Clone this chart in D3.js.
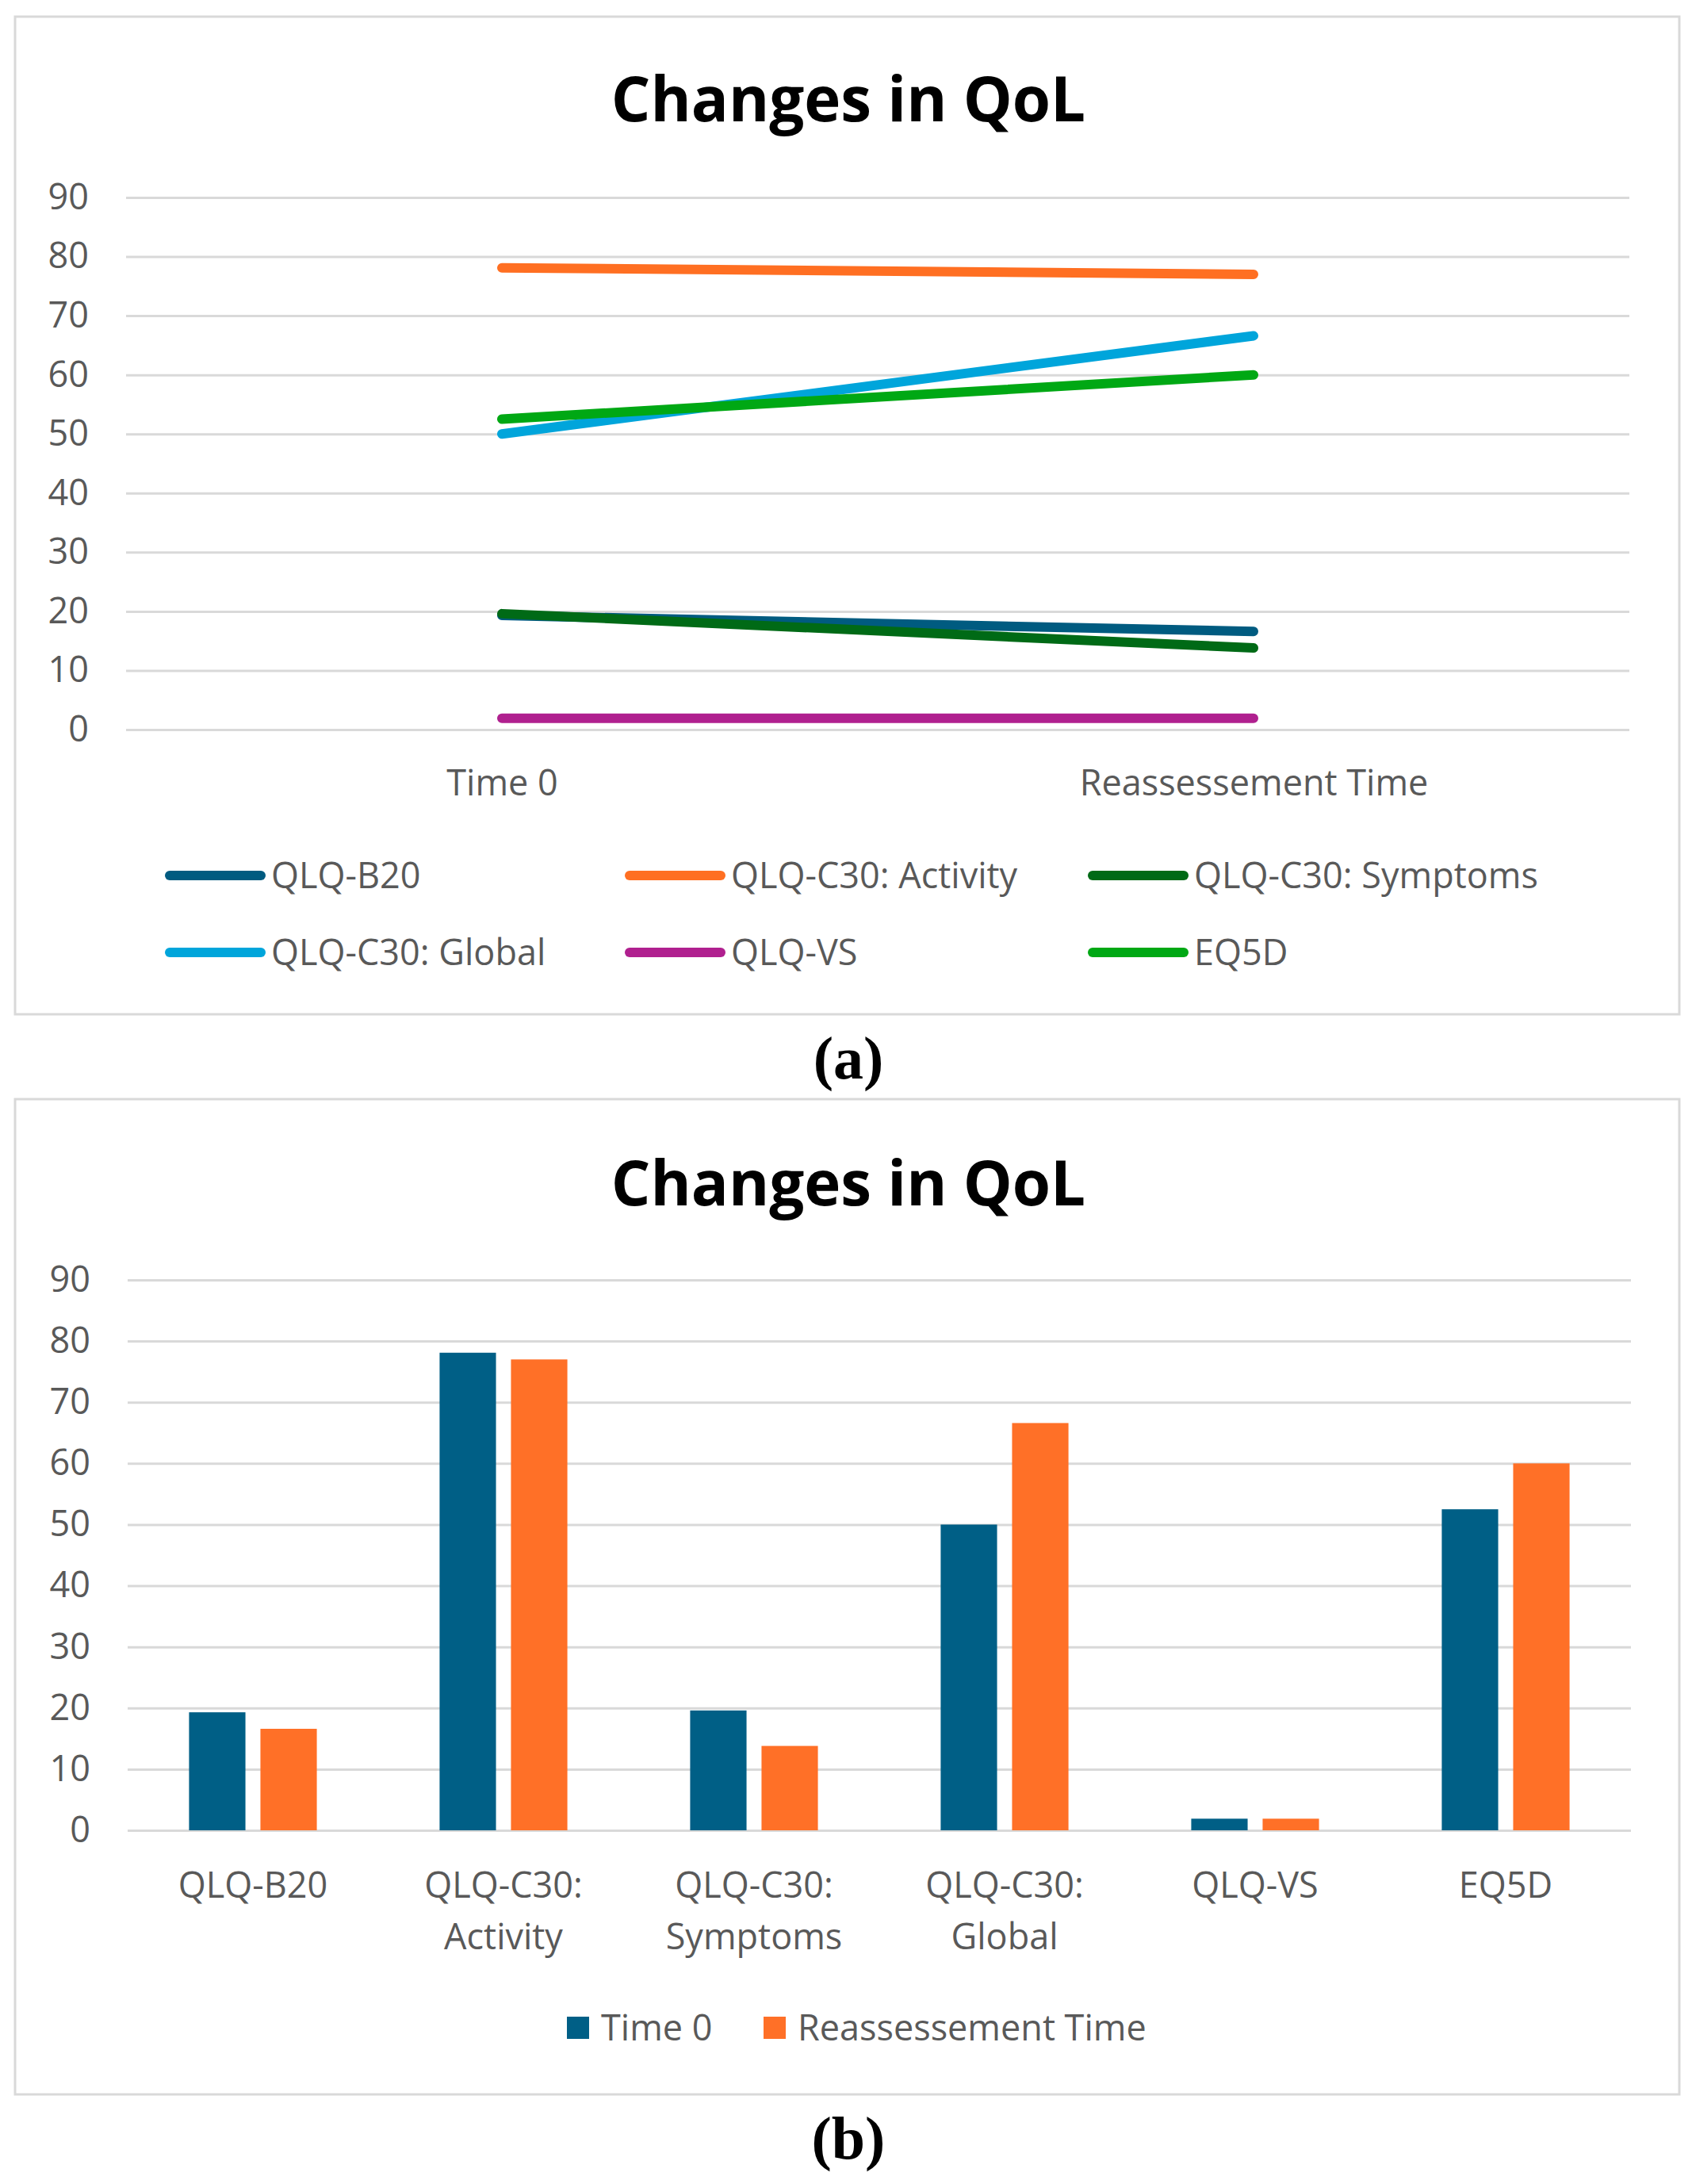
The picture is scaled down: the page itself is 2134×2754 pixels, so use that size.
<!DOCTYPE html>
<head>
  <meta charset="utf-8">
  <script src="https://d3js.org/d3.v7.min.js"></script>
  <style>
    body { margin: 0; background: #fff; }
    text { font-family: "Open Sans", "Noto Sans", sans-serif; fill: #595959; }
    .title { font-weight: bold; fill: #000; }
    .caption { font-family: "Liberation Serif", "DejaVu Serif", serif; font-weight: bold; fill: #000; }
    .grid line { stroke: #d9d9d9; stroke-width: 3; }
    .grid path, .axis path { display: none; }
    .frame { fill: none; stroke: #d9d9d9; stroke-width: 3; }
  </style>
</head>
<body>
  <script>
    // data
    const timepoints = ["Time 0", "Reassessement Time"];
    const measures = ["QLQ-B20", "QLQ-C30: Activity", "QLQ-C30: Symptoms", "QLQ-C30: Global", "QLQ-VS", "EQ5D"];
    const time0Values = [19.3, 78.1, 19.6, 50.0, 1.9, 52.5];
    const reassessValues = [16.6, 77.0, 13.8, 66.6, 1.9, 60.0];
    const yTicks = [0, 10, 20, 30, 40, 50, 60, 70, 80, 90];

    const lineColors = ["#005b80", "#ff6f22", "#006a16", "#00a5db", "#b0208f", "#00a814"];
    const barColors = ["#005f86", "#ff7027"];

    const W = 2134, H = 2754;
    const tickFont = 45;

    const svg = d3.select("body").append("svg")
        .attr("width", W)
        .attr("height", H);
    svg.append("rect").attr("width", W).attr("height", H).attr("fill", "#fff");

    function frame(y0, y1) {
        svg.append("rect").attr("class", "frame")
            .attr("x", 19).attr("y", y0)
            .attr("width", 2118 - 19).attr("height", y1 - y0);
    }

    function title(yBase) {
        svg.append("text").attr("class", "title")
            .attr("x", 1070).attr("y", yBase)
            .attr("text-anchor", "middle")
            .style("font-size", "78px")
            .text("Changes in QoL");
    }

    function yAxisAndGrid(g, y, left, right) {
        g.append("g").attr("class", "grid")
            .attr("transform", "translate(" + left + ",0)")
            .call(d3.axisLeft(y).tickValues(yTicks).tickSize(-(right - left)).tickFormat(""));
        g.append("g").attr("class", "axis")
            .attr("transform", "translate(" + (left - 47) + ",0)")
            .call(d3.axisLeft(y).tickValues(yTicks).tickSize(0).tickPadding(0))
            .call(a => a.selectAll("text").style("font-size", tickFont + "px").attr("fill", "#595959"));
    }

    // ---------- (a) line chart ----------
    frame(21, 1279);
    title(153);
    const gA = svg.append("g");
    const yA = d3.scaleLinear().domain([0, 90]).range([920, 249]);
    const xA = d3.scalePoint().domain(timepoints).range([159, 2055]).padding(0.5);
    yAxisAndGrid(gA, yA, 159, 2055);

    gA.append("g").attr("class", "axis")
        .attr("transform", "translate(0,920)")
        .call(d3.axisBottom(xA).tickSize(0).tickPadding(0))
        .call(a => a.selectAll("text")
            .attr("y", 83).attr("dy", 0)
            .style("font-size", tickFont + "px").attr("fill", "#595959"));

    const series = measures.map((m, i) => ({
        name: m,
        color: lineColors[i],
        values: [time0Values[i], reassessValues[i]]
    }));

    const line = d3.line()
        .x((d, i) => xA(timepoints[i]))
        .y(d => yA(d));

    gA.selectAll(".series")
        .data(series)
        .enter().append("path")
        .attr("class", "series")
        .attr("d", d => line(d.values))
        .attr("fill", "none")
        .attr("stroke", d => d.color)
        .attr("stroke-width", 12)
        .attr("stroke-linecap", "round");

    const legendCols = [208, 788, 1372];
    const legendRows = [1104, 1201];
    const legA = gA.selectAll(".legA")
        .data(series)
        .enter().append("g")
        .attr("class", "legA")
        .attr("transform", (d, i) => "translate(" + legendCols[i % 3] + "," + legendRows[Math.floor(i / 3)] + ")");
    legA.append("line")
        .attr("x1", 6).attr("x2", 121)
        .attr("stroke", d => d.color)
        .attr("stroke-width", 12)
        .attr("stroke-linecap", "round");
    legA.append("text")
        .attr("x", 134).attr("dy", "0.36em")
        .style("font-size", tickFont + "px")
        .text(d => d.name);

    svg.append("text").attr("class", "caption")
        .attr("x", 1070).attr("y", 1360)
        .attr("text-anchor", "middle")
        .style("font-size", "76px")
        .text("(a)");

    // ---------- (b) bar chart ----------
    frame(1386, 2641);
    title(1520);
    const gB = svg.append("g");
    const yB = d3.scaleLinear().domain([0, 90]).range([2308, 1614]);
    const x0 = d3.scaleBand().domain(measures).range([161, 2057]);
    const x1 = d3.scaleBand().domain(timepoints).range([0, x0.bandwidth()])
        .paddingInner(0.21).paddingOuter(0.86);
    yAxisAndGrid(gB, yB, 161, 2057);

    const barData = measures.map((m, i) => ({
        name: m,
        values: [
            { key: timepoints[0], value: time0Values[i] },
            { key: timepoints[1], value: reassessValues[i] }
        ]
    }));

    gB.selectAll(".group")
        .data(barData)
        .enter().append("g")
        .attr("class", "group")
        .attr("transform", d => "translate(" + x0(d.name) + ",0)")
        .selectAll("rect")
        .data(d => d.values)
        .enter().append("rect")
        .attr("x", d => x1(d.key))
        .attr("width", x1.bandwidth())
        .attr("y", d => yB(d.value))
        .attr("height", d => yB(0) - yB(d.value))
        .attr("fill", (d, i) => barColors[i]);

    const xAxB = gB.append("g").attr("class", "axis")
        .attr("transform", "translate(0,2308)")
        .call(d3.axisBottom(x0).tickSize(0).tickPadding(0).tickFormat(""));
    xAxB.selectAll(".tick").append("text")
        .attr("text-anchor", "middle")
        .style("font-size", tickFont + "px")
        .attr("fill", "#595959")
        .each(function(d) {
            const parts = d.indexOf(": ") >= 0 ? [d.split(": ")[0] + ":", d.split(": ")[1]] : [d];
            d3.select(this).selectAll("tspan")
                .data(parts)
                .enter().append("tspan")
                .attr("x", 0)
                .attr("y", (p, j) => 85 + j * 65)
                .text(p => p);
        });

    const legB = gB.selectAll(".legB")
        .data(timepoints)
        .enter().append("g")
        .attr("class", "legB")
        .attr("transform", (d, i) => "translate(" + [715, 963][i] + ",2557)");
    legB.append("rect")
        .attr("x", 0).attr("y", -14)
        .attr("width", 28).attr("height", 28)
        .attr("fill", (d, i) => barColors[i]);
    legB.append("text")
        .attr("x", 43).attr("dy", "0.36em")
        .style("font-size", tickFont + "px")
        .text(d => d);

    svg.append("text").attr("class", "caption")
        .attr("x", 1070).attr("y", 2722)
        .attr("text-anchor", "middle")
        .style("font-size", "76px")
        .text("(b)");
  </script>
</body>
